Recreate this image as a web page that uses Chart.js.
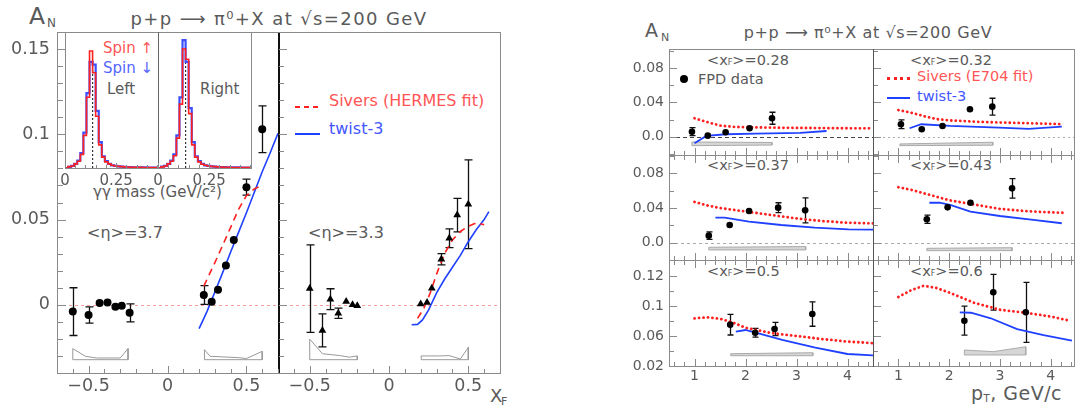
<!DOCTYPE html>
<html>
<head>
<meta charset="utf-8">
<title>pi0 A_N at sqrt(s)=200 GeV</title>
<script src="https://cdn.jsdelivr.net/npm/chart.js@4.4.1/dist/chart.umd.min.js"></script>
<style>
  html, body { margin: 0; padding: 0; background: #fff; }
  body { position: relative; width: 1075px; height: 410px; overflow: hidden; font-family: "DejaVu Sans", sans-serif; }
  canvas { position: absolute; }
  .t { position: absolute; white-space: nowrap; line-height: 1; color: #5a5a5a; }
  .key { position: absolute; }
  .ln { position: absolute; z-index: 5; }
</style>
</head>
<body>
<!-- left figure texts -->
<div class="t" style="left:29px;top:5px;font-size:23.5px">A</div>
<div class="t" style="left:47px;top:17px;font-size:12px">N</div>
<div class="t" style="left:279px;top:10px;font-size:18px;letter-spacing:1.4px;transform:translateX(-50%)">p+p ⟶ π⁰+X at √s=200 GeV</div>
<div class="key" style="left:295px;top:106px;width:25px;height:2px;background:repeating-linear-gradient(90deg,#ff2020 0 5px,transparent 5px 9px)"></div>
<div class="t" style="left:329px;top:93px;font-size:16px;color:#ff5555">Sivers (HERMES fit)</div>
<div class="key" style="left:295px;top:133px;width:25px;height:2px;background:#2040ff"></div>
<div class="t" style="left:329px;top:121px;font-size:16px;color:#4455ff">twist-3</div>
<div class="t" style="left:87px;top:225px;font-size:16px">&lt;η&gt;=3.7</div>
<div class="t" style="left:308px;top:225px;font-size:16px">&lt;η&gt;=3.3</div>
<div class="t" style="left:103px;top:41px;font-size:15px;color:#ff5555">Spin ↑</div>
<div class="t" style="left:103px;top:61px;font-size:15px;color:#5566ff">Spin ↓</div>
<div class="t" style="left:107px;top:82px;font-size:15px">Left</div>
<div class="t" style="left:200px;top:82px;font-size:15px">Right</div>
<div class="t" style="left:93px;top:185px;font-size:15px">γγ mass (GeV/c²)</div>
<div class="t" style="left:490px;top:387px;font-size:18px">X</div>
<div class="t" style="left:501px;top:396px;font-size:11px">F</div>

<!-- right figure texts -->
<div class="t" style="left:645px;top:21px;font-size:19px">A</div>
<div class="t" style="left:661px;top:32px;font-size:11px">N</div>
<div class="t" style="left:868px;top:25px;font-size:16px;letter-spacing:0.6px;transform:translateX(-50%)">p+p ⟶ π⁰+X at √s=200 GeV</div>
<div class="t" style="left:707px;top:53px;font-size:14.5px">&lt;x<span style="font-size:8px">F</span>&gt;=0.28</div>
<div class="t" style="left:910px;top:53px;font-size:14.5px">&lt;x<span style="font-size:8px">F</span>&gt;=0.32</div>
<div class="t" style="left:707px;top:158px;font-size:14.5px">&lt;x<span style="font-size:8px">F</span>&gt;=0.37</div>
<div class="t" style="left:910px;top:158px;font-size:14.5px">&lt;x<span style="font-size:8px">F</span>&gt;=0.43</div>
<div class="t" style="left:707px;top:264px;font-size:14.5px">&lt;x<span style="font-size:8px">F</span>&gt;=0.5</div>
<div class="t" style="left:910px;top:264px;font-size:14.5px">&lt;x<span style="font-size:8px">F</span>&gt;=0.6</div>
<div class="key" style="left:680px;top:75px;width:8px;height:8px;border-radius:50%;background:#000"></div>
<div class="t" style="left:698px;top:72px;font-size:14.5px">FPD data</div>
<div class="key" style="left:887px;top:77px;width:23px;height:0;border-top:3px dotted #ff2020"></div>
<div class="t" style="left:917px;top:69px;font-size:14.5px;color:#ff5555">Sivers (E704 fit)</div>
<div class="key" style="left:887px;top:97px;width:23px;height:2px;background:#2040ff"></div>
<div class="t" style="left:917px;top:89px;font-size:14.5px;color:#4455ff">twist-3</div>
<div class="t" style="left:971px;top:384px;font-size:19px;letter-spacing:0.5px">p<span style="font-size:10px;vertical-align:-2px">T</span>, GeV/c</div>

<script>
// ---------- left figure: A_N vs x_F ----------
// <eta> = 3.7 (dots)
const eta37X = [-0.60, -0.50, -0.43, -0.38, -0.33, -0.29, -0.24, 0.23, 0.28, 0.32, 0.37, 0.42, 0.50, 0.60];
const eta37A = [-0.004, -0.006, 0.001, 0.0013, -0.0012, -0.0006, -0.0047, 0.0057, 0.0018, 0.0088, 0.023, 0.038, 0.069, 0.103];
const eta37E = [0.014, 0.0048, 0.0025, 0.001, 0.001, 0.001, 0.0053, 0.0055, 0.001, 0.001, 0.001, 0.0018, 0.0047, 0.0137];
const siv37X = [0.23, 0.30, 0.35, 0.40, 0.45, 0.50, 0.55, 0.60];
const siv37A = [0.011, 0.0247, 0.035, 0.0454, 0.056, 0.064, 0.068, 0.070];
const tw37X = [0.20, 0.25, 0.30, 0.35, 0.40, 0.45, 0.50, 0.55, 0.60, 0.65, 0.70];
const tw37A = [-0.014, -0.004, 0.0075, 0.019, 0.031, 0.0425, 0.054, 0.066, 0.078, 0.089, 0.1006];
const sys37NX = [-0.60, -0.60, -0.52, -0.45, -0.30, -0.25, -0.25, -0.60];
const sys37NY = [-0.0322, -0.0257, -0.0302, -0.0312, -0.0312, -0.0257, -0.0322, -0.0322];
const sys37PX = [0.234, 0.234, 0.27, 0.45, 0.50, 0.60, 0.60, 0.234];
const sys37PY = [-0.0322, -0.0263, -0.0302, -0.031, -0.0315, -0.0273, -0.0322, -0.0322];

// <eta> = 3.3 (triangles)
const eta33X = [-0.50, -0.42, -0.37, -0.32, -0.27, -0.23, -0.20, 0.20, 0.24, 0.27, 0.33, 0.38, 0.43, 0.50];
const eta33A = [0.0095, -0.015, 0.0033, -0.005, 0.002, 0.0, -0.0006, 0.0004, 0.0013, 0.0097, 0.0267, 0.039, 0.0526, 0.059];
const eta33E = [0.0257, 0.0097, 0.0061, 0.003, 0.001, 0.001, 0.001, 0.001, 0.001, 0.001, 0.0033, 0.0055, 0.0098, 0.026];
const siv33X = [0.18, 0.22, 0.26, 0.30, 0.35, 0.40, 0.45, 0.50, 0.55, 0.60];
const siv33A = [-0.008, -0.002, 0.007, 0.018, 0.030, 0.038, 0.043, 0.046, 0.048, 0.047];
const tw33X = [0.143, 0.18, 0.21, 0.25, 0.30, 0.35, 0.40, 0.45, 0.50, 0.55, 0.60, 0.63];
const tw33A = [-0.0117, -0.0115, -0.009, -0.003, 0.007, 0.015, 0.022, 0.029, 0.037, 0.044, 0.050, 0.0546];
const sys33NX = [-0.50, -0.50, -0.42, -0.31, -0.25, -0.20, -0.20, -0.50];
const sys33NY = [-0.0322, -0.0201, -0.0287, -0.0298, -0.0307, -0.030, -0.0322, -0.0322];
const sys33PX = [0.203, 0.203, 0.32, 0.38, 0.45, 0.50, 0.50, 0.203];
const sys33PY = [-0.0322, -0.030, -0.030, -0.0298, -0.0318, -0.025, -0.0322, -0.0322];

// inset: gamma-gamma invariant mass, bin left edges (GeV/c^2) and normalised counts
const massEdges = [0, 0.015, 0.03, 0.045, 0.06, 0.075, 0.09, 0.105, 0.12, 0.135, 0.15, 0.165, 0.18, 0.195, 0.21,
  0.225, 0.24, 0.255, 0.27, 0.285, 0.30, 0.315, 0.33, 0.345, 0.36, 0.375, 0.39, 0.405, 0.42, 0.435, 0.45];
const leftUp = [0.00, 0.01, 0.015, 0.03, 0.05, 0.10, 0.24, 0.52, 0.86, 0.70, 0.38, 0.17, 0.08, 0.045, 0.03,
  0.02, 0.015, 0.012, 0.01, 0.008, 0.007, 0.006, 0.006, 0.005, 0.005, 0.004, 0.004, 0.004, 0.003, 0.003, 0.003];
const leftDown = [0.00, 0.008, 0.015, 0.03, 0.055, 0.11, 0.26, 0.55, 0.78, 0.76, 0.42, 0.19, 0.085, 0.05, 0.03,
  0.02, 0.015, 0.012, 0.01, 0.008, 0.007, 0.006, 0.005, 0.005, 0.005, 0.004, 0.004, 0.003, 0.003, 0.003, 0.003];
const rightUp = [0.00, 0.008, 0.015, 0.03, 0.05, 0.09, 0.22, 0.47, 0.875, 0.80, 0.40, 0.17, 0.08, 0.045, 0.028,
  0.02, 0.015, 0.012, 0.01, 0.008, 0.007, 0.006, 0.005, 0.005, 0.004, 0.004, 0.004, 0.003, 0.003, 0.003, 0.003];
const rightDown = [0.00, 0.01, 0.015, 0.03, 0.055, 0.10, 0.24, 0.52, 0.94, 0.78, 0.44, 0.19, 0.085, 0.05, 0.03,
  0.02, 0.015, 0.012, 0.01, 0.008, 0.007, 0.006, 0.005, 0.005, 0.004, 0.004, 0.004, 0.003, 0.003, 0.003, 0.003];
const PI0_MASS = 0.135, PI0_LINE_TOP = 0.8;

// ---------- right figure: A_N vs pT in x_F bins ----------
const pt28X = [0.95, 1.26, 1.61, 2.08, 2.52];
const pt28A = [0.0058, 0.0012, 0.0051, 0.0098, 0.0215];
const pt28E = [0.0047, 0.0015, 0.0015, 0.0015, 0.007];
const siv28X = [1.0, 1.25, 1.5, 1.75, 2.0, 2.5, 3.0, 3.5, 4.0, 4.5];
const siv28A = [0.0215, 0.017, 0.013, 0.0115, 0.011, 0.0105, 0.0102, 0.010, 0.0098, 0.0097];
const tw28X = [1.0, 1.23, 1.62, 2.2, 3.07, 3.59];
const tw28A = [-0.0078, 0.0008, 0.0028, 0.0035, 0.0045, 0.0066];
const sys28X = [0.95, 0.95, 2.52, 2.52, 0.95];
const sys28Y = [-0.0105, -0.0062, -0.0068, -0.0098, -0.0105];

const pt32X = [1.05, 1.46, 1.87, 2.41, 2.85];
const pt32A = [0.0145, 0.0086, 0.0125, 0.032, 0.035];
const pt32E = [0.0052, 0.0015, 0.0015, 0.0025, 0.0098];
const siv32X = [1.0, 1.25, 1.5, 1.75, 2.0, 2.5, 3.0, 3.5, 4.0, 4.25];
const siv32A = [0.031, 0.028, 0.024, 0.0205, 0.019, 0.0175, 0.0165, 0.0158, 0.015, 0.0145];
const tw32X = [1.22, 1.45, 2.02, 2.98, 3.57, 4.22];
const tw32A = [0.0098, 0.0145, 0.0125, 0.0105, 0.009, 0.0117];
const sys32X = [1.03, 1.03, 2.86, 2.86, 1.03];
const sys32Y = [-0.0105, -0.0085, -0.0065, -0.010, -0.0105];

const pt37X = [1.28, 1.69, 2.07, 2.64, 3.17];
const pt37A = [0.0081, 0.0204, 0.0366, 0.0404, 0.0373];
const pt37E = [0.0044, 0.0015, 0.0015, 0.0057, 0.0145];
const siv37pX = [1.0, 1.25, 1.5, 1.75, 2.0, 2.5, 3.0, 3.5, 4.0, 4.5];
const siv37pA = [0.047, 0.043, 0.040, 0.038, 0.036, 0.032, 0.028, 0.025, 0.023, 0.0222];
const tw37pX = [1.41, 1.59, 2.07, 2.7, 3.36, 4.02, 4.5];
const tw37pA = [0.0289, 0.0289, 0.0242, 0.0204, 0.0173, 0.0154, 0.015];
const sys37X = [1.28, 1.28, 3.18, 3.18, 1.28];
const sys37Y = [-0.0084, -0.0053, -0.0045, -0.0084, -0.0084];

const pt43X = [1.56, 1.97, 2.42, 3.24];
const pt43A = [0.027, 0.0408, 0.0461, 0.0627];
const pt43E = [0.0048, 0.0015, 0.0035, 0.0112];
const siv43X = [1.0, 1.25, 1.5, 1.75, 2.0, 2.5, 3.0, 3.5, 4.0, 4.25];
const siv43A = [0.064, 0.061, 0.057, 0.053, 0.049, 0.044, 0.039, 0.0365, 0.035, 0.0345];
const tw43X = [1.61, 1.81, 2.02, 2.42, 3.0, 3.66, 4.22];
const tw43A = [0.0461, 0.0461, 0.0435, 0.0358, 0.0308, 0.0262, 0.0224];
const sys43X = [1.56, 1.56, 3.24, 3.24, 1.56];
const sys43Y = [-0.0092, -0.0065, -0.0058, -0.0092, -0.0092];

const pt50X = [1.70, 2.19, 2.57, 3.31];
const pt50A = [0.0751, 0.0644, 0.0693, 0.0893];
const pt50E = [0.0138, 0.0058, 0.0088, 0.0163];
const siv50X = [1.0, 1.25, 1.5, 1.75, 2.0, 2.5, 3.0, 3.5, 4.0, 4.5];
const siv50A = [0.0835, 0.085, 0.083, 0.078, 0.071, 0.064, 0.060, 0.056, 0.0525, 0.0505];
const tw50X = [1.81, 2.0, 2.2, 2.72, 3.37, 4.0, 4.5];
const tw50A = [0.0658, 0.068, 0.0644, 0.0547, 0.0444, 0.036, 0.0342];
const sys50X = [1.71, 1.71, 3.32, 3.32, 1.71];
const sys50Y = [0.0337, 0.0364, 0.0377, 0.0337, 0.0337];

const pt60X = [2.30, 2.87, 3.51];
const pt60A = [0.0804, 0.1183, 0.0916];
const pt60E = [0.0193, 0.0238, 0.040];
const siv60X = [1.0, 1.25, 1.5, 1.75, 2.0, 2.5, 3.0, 3.5, 4.0, 4.4];
const siv60A = [0.112, 0.121, 0.127, 0.124, 0.118, 0.104, 0.095, 0.091, 0.086, 0.080];
const tw60X = [2.21, 2.43, 2.82, 3.34, 3.86, 4.42];
const tw60A = [0.0916, 0.091, 0.0836, 0.0693, 0.0613, 0.0538];
const sys60X = [2.30, 2.30, 2.87, 3.51, 3.51, 2.30];
const sys60Y = [0.0347, 0.0413, 0.0391, 0.0457, 0.0347, 0.0347];

// tick labels
const xLabelsL = [-0.5, 0, 0.5];
const yLabelsL = [0, 0.05, 0.1, 0.15];
const massLabels = [0, 0.25];
const ptLabels = [1, 2, 3, 4];
const yLabelsTop = [0, 0.04, 0.08];
const yTicksBottom = [0.02, 0.06, 0.10, 0.14];
const yLabelsBottom = ['0.02', '0.06', '0.1', '0.12'];

const RED = '#ff2020', BLUE = '#2040ff', GREY = '#8a8a8a', TXT = '#5a5a5a';

const range = (a, b, s) => { const out = []; for (let v = a; v <= b + 1e-9; v += s) out.push(+v.toFixed(4)); return out; };
const pts = (xs, ys) => xs.map((x, i) => ({x, y: ys[i]}));
const panels = [];

// reference lines and error bars, drawn under the markers
const decoPlugin = {
  id: 'deco',
  beforeDatasetsDraw(chart) {
    const d = chart.canvas.deco; if (!d) return;
    const {ctx, chartArea: a, scales: {x, y}} = chart;
    ctx.save();
    (d.zero || []).forEach(z => {
      const py = Math.round(y.getPixelForValue(z.value)) + 0.5;
      ctx.strokeStyle = z.color; ctx.lineWidth = 1; ctx.setLineDash(z.dash);
      ctx.beginPath(); ctx.moveTo(a.left, py); ctx.lineTo(a.right, py); ctx.stroke();
    });
    ctx.setLineDash([]);
    chart.data.datasets.forEach(ds => {
      if (!ds.errs) return;
      ctx.strokeStyle = '#111'; ctx.lineWidth = 1.3;
      ds.data.forEach((p, i) => {
        const e = ds.errs[i];
        const px = Math.round(x.getPixelForValue(p.x)) + 0.5;
        const top = y.getPixelForValue(p.y + e), bot = y.getPixelForValue(p.y - e);
        if (bot - top < 2 * ds.pointRadius + 1) return; // hidden by the marker
        ctx.beginPath();
        ctx.moveTo(px, top); ctx.lineTo(px, bot);
        ctx.moveTo(px - ds.capW, top); ctx.lineTo(px + ds.capW, top);
        ctx.moveTo(px - ds.capW, bot); ctx.lineTo(px + ds.capW, bot);
        ctx.stroke();
      });
    });
    ctx.restore();
  }
};

// frames and inward ticks as thin page elements placed from each panel's scales
function rule(x, y, w, h, color) {
  const el = document.createElement('div');
  el.className = 'ln';
  el.style.left = x + 'px'; el.style.top = y + 'px';
  el.style.width = w + 'px'; el.style.height = h + 'px';
  el.style.background = color;
  document.body.appendChild(el);
}
function drawFrames() {
  panels.forEach(({chart, ox, oy, deco, box}) => {
    const L = box.l, R = box.l + box.w, T = box.t, B = box.t + box.h;
    (deco.ticks || []).forEach(t => {
      const s = chart.scales[t.axis];
      const len = Math.round(t.len);
      t.values.forEach(v => {
        if (v < s.min - 1e-9 || v > s.max + 1e-9) return;
        const raw = s.getPixelForValue(v) + (t.axis === 'x' ? ox : oy);
        if (!isFinite(raw)) return;
        const p = Math.round(raw);
        if (t.axis === 'x') {
          if (t.side === 'top') rule(p, T + 1, 1, len, GREY);
          else rule(p, B - len, 1, len, GREY);
        } else {
          rule(L + 1, p, len, 1, GREY);
        }
      });
    });
    const f = deco.frame || {};
    const wd = k => Math.max(1, Math.round(f[k][1]));
    if (f.top) rule(L, T, box.w + 1, wd('top'), f.top[0]);
    if (f.bottom) rule(L, B, box.w + 1, wd('bottom'), f.bottom[0]);
    if (f.left) rule(L, T, wd('left'), box.h + 1, f.left[0]);
    if (f.right) rule(R, T, wd('right'), box.h + 1, f.right[0]);
  });
}

function panel(box, datasets, deco, ax) {
  const mL = ax.yTicks ? ax.yWidth : 12, mT = 20, mR = 10, mB = ax.xTicks ? ax.xHeight : 20;
  const cv = document.createElement('canvas');
  cv.width = box.w + mL + mR; cv.height = box.h + mT + mB;
  cv.style.left = (box.l - mL) + 'px'; cv.style.top = (box.t - mT) + 'px';
  cv.deco = deco;
  document.body.appendChild(cv);
  const font = {family: 'DejaVu Sans', size: ax.fontSize};
  const chart = new Chart(cv, {
    type: 'scatter',
    data: {datasets},
    options: {
      responsive: false, animation: false, devicePixelRatio: 1, events: [],
      layout: {padding: {top: mT, right: mR, left: ax.yTicks ? 0 : mL, bottom: ax.xTicks ? 0 : mB}},
      plugins: {legend: {display: false}, tooltip: {enabled: false}},
      scales: {
        x: {
          type: 'linear', min: ax.x[0], max: ax.x[1], display: !!ax.xTicks,
          grid: {display: false, drawTicks: false}, border: {display: false},
          afterBuildTicks: s => { if (ax.xTicks) s.ticks = ax.xTicks.map(v => ({value: v})); },
          afterFit: s => { s.height = ax.xTicks ? mB : 0; },
          ticks: {autoSkip: false, maxRotation: 0, padding: ax.xPad || 3, color: TXT, font,
                  callback: v => v < 0 ? '\u2212' + String(-v) : String(v)}
        },
        y: {
          type: 'linear', min: ax.y[0], max: ax.y[1], display: !!ax.yTicks,
          grid: {display: false, drawTicks: false}, border: {display: false},
          afterBuildTicks: s => { if (ax.yTicks) s.ticks = ax.yTicks.map(v => ({value: v})); },
          afterFit: s => { s.width = ax.yTicks ? mL : 0; },
          ticks: {autoSkip: false, padding: ax.yPad || 5, color: TXT, font,
                  callback: ax.yFmt || (v => String(v))}
        }
      }
    },
    plugins: [decoPlugin]
  });
  panels.push({chart, ox: box.l - mL, oy: box.t - mT, deco, box});
  return chart;
}

const dots = (xs, ys, es, r, style, cap) => ({data: pts(xs, ys), errs: es, capW: cap, pointStyle: style,
  pointRadius: r, backgroundColor: '#000', borderColor: '#000', borderWidth: 0, showLine: false});
const line = (xs, ys, color, width, dash, cap) => ({data: pts(xs, ys), showLine: true, borderColor: color,
  borderWidth: width, borderDash: dash || [], borderCapStyle: cap || 'butt', pointRadius: 0, fill: false});
const band = (xs, ys, filled) => ({data: pts(xs, ys), showLine: true, borderColor: filled ? '#aaa' : '#999',
  borderWidth: 1, pointRadius: 0, fill: filled ? 'shape' : false, backgroundColor: '#d6d6d6'});

// ---- left figure panels
const xTicksL = [
  {axis: 'x', side: 'bottom', values: range(-0.7, 0.7, 0.1), len: 4},
  {axis: 'x', side: 'bottom', values: xLabelsL, len: 7},
  {axis: 'y', side: 'left', values: range(-0.04, 0.16, 0.01), len: 5},
  {axis: 'y', side: 'left', values: yLabelsL, len: 8}
];
const pinkZero = [{value: 0, color: '#f5a0a0', dash: [3, 3]}];

panel({l: 57, t: 32, w: 221, h: 341}, [
  dots(eta37X, eta37A, eta37E, 4, 'circle', 4),
  line(siv37X, siv37A, RED, 1.6, [7, 5]),
  line(tw37X, tw37A, BLUE, 1.6),
  band(sys37NX, sys37NY), band(sys37PX, sys37PY)
], {zero: pinkZero, ticks: xTicksL,
    frame: {left: [GREY, 1], top: [GREY, 1], bottom: [GREY, 1], right: ['#111', 2]}},
{x: [-0.7, 0.7], y: [-0.04, 0.16], xTicks: xLabelsL, yTicks: yLabelsL, xHeight: 37, yWidth: 57,
 fontSize: 17.5, xPad: 3, yPad: 7});

panel({l: 278, t: 32, w: 222, h: 341}, [
  dots(eta33X, eta33A, eta33E, 4.5, 'triangle', 4),
  line(siv33X, siv33A, RED, 1.6, [7, 5]),
  line(tw33X, tw33A, BLUE, 1.6),
  band(sys33NX, sys33NY), band(sys33PX, sys33PY)
], {zero: pinkZero, ticks: xTicksL,
    frame: {top: [GREY, 1], bottom: [GREY, 1], right: [GREY, 1]}},
{x: [-0.7, 0.7], y: [-0.04, 0.16], xTicks: xLabelsL, xHeight: 37, fontSize: 17.5, xPad: 3});

// inset histograms
const insetTicks = [
  {axis: 'x', side: 'bottom', values: range(0, 0.45, 0.05), len: 3},
  {axis: 'x', side: 'bottom', values: massLabels, len: 5}
];
const insetSets = (up, down) => [
  Object.assign(line(massEdges, up, RED, 1.6), {stepped: true}),
  Object.assign(line(massEdges, down, '#3a50ff', 2.2), {stepped: true}),
  line([PI0_MASS, PI0_MASS], [0, PI0_LINE_TOP], '#333', 1.2, [2, 2])
];
panel({l: 65, t: 32, w: 93, h: 136}, insetSets(leftUp, leftDown),
  {ticks: insetTicks, frame: {left: [GREY, 1], bottom: [GREY, 1], right: ['#666', 1]}},
  {x: [0, 0.455], y: [0, 1], xTicks: massLabels, xHeight: 30, fontSize: 15, xPad: 4});
panel({l: 158, t: 32, w: 93, h: 136}, insetSets(rightUp, rightDown),
  {ticks: insetTicks, frame: {bottom: [GREY, 1], right: [GREY, 1]}},
  {x: [0, 0.455], y: [0, 1], xTicks: massLabels, xHeight: 30, fontSize: 15, xPad: 4});

// ---- right figure panels
const rowBox = [{t: 49, h: 106}, {t: 155, h: 105}, {t: 260, h: 106}];
const colBox = [{l: 669, w: 204}, {l: 873, w: 201}];
const rowY = [[-0.0214, 0.1023], [-0.020, 0.1012], [0.02, 0.1613]];
const colX = [[0.5, 4.5], [0.5, 4.46]];
const cells = [
  [pt28X, pt28A, pt28E, siv28X, siv28A, tw28X, tw28A, sys28X, sys28Y],
  [pt32X, pt32A, pt32E, siv32X, siv32A, tw32X, tw32A, sys32X, sys32Y],
  [pt37X, pt37A, pt37E, siv37pX, siv37pA, tw37pX, tw37pA, sys37X, sys37Y],
  [pt43X, pt43A, pt43E, siv43X, siv43A, tw43X, tw43A, sys43X, sys43Y],
  [pt50X, pt50A, pt50E, siv50X, siv50A, tw50X, tw50A, sys50X, sys50Y],
  [pt60X, pt60A, pt60E, siv60X, siv60A, tw60X, tw60A, sys60X, sys60Y]
];
const zeroStyles = [
  [{value: 0, color: '#444', dash: [4, 3]}], [{value: 0, color: '#aaa', dash: [2, 3]}],
  [{value: 0, color: '#aaa', dash: [3, 3]}], [{value: 0, color: '#aaa', dash: [3, 3]}], [], []
];

cells.forEach((c, i) => {
  const row = Math.floor(i / 2), col = i % 2;
  const yMaj = row < 2 ? yLabelsTop : yTicksBottom;
  const yMin = row < 2 ? [-0.02, 0.02, 0.06, 0.10] : [0.04, 0.08, 0.12];
  const ticks = [
    {axis: 'x', side: 'bottom', values: range(0.6, 4.4, 0.2), len: 3.5},
    {axis: 'x', side: 'bottom', values: ptLabels, len: 6.5},
    {axis: 'y', side: 'left', values: yMin, len: 3.5},
    {axis: 'y', side: 'left', values: yMaj, len: 6.5}
  ];
  if (row > 0) {
    ticks.push({axis: 'x', side: 'top', values: range(0.6, 4.4, 0.2), len: 3.5});
    ticks.push({axis: 'x', side: 'top', values: ptLabels, len: 6.5});
  }
  const frame = {top: [GREY, 1], bottom: [GREY, 1]};
  if (col === 0) frame.left = [GREY, 1]; else { frame.left = ['#555', 1]; frame.right = [GREY, 1]; }
  panel({l: colBox[col].l, t: rowBox[row].t, w: colBox[col].w, h: rowBox[row].h}, [
    dots(c[0], c[1], c[2], 3.3, 'circle', 3),
    line(c[3], c[4], RED, 2.8, [0.1, 4.4], 'round'),
    line(c[5], c[6], BLUE, 1.8),
    band(c[7], c[8], true)
  ], {zero: zeroStyles[i], ticks, frame}, {
    x: colX[col], y: rowY[row],
    xTicks: row === 2 ? ptLabels : null, xHeight: 30, xPad: 2,
    yTicks: col === 0 ? yMaj : null, yWidth: 45, yPad: 5, fontSize: 14,
    yFmt: row < 2 ? (v => v === 0 ? '0.0' : v.toFixed(2)) : ((v, idx) => yLabelsBottom[idx])
  });
});

drawFrames();
</script>
</body>
</html>
